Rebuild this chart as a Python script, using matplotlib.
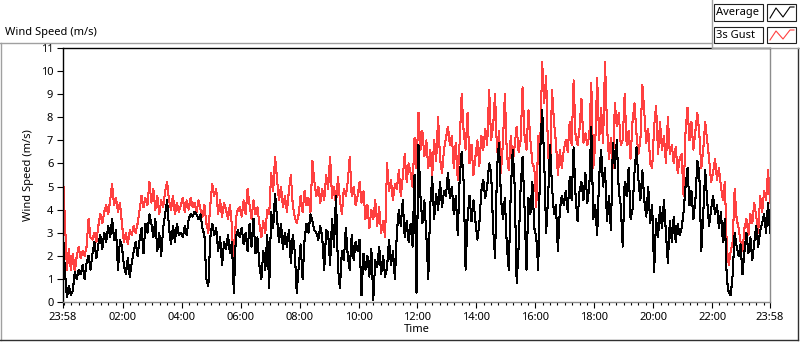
import numpy as np
import matplotlib.pyplot as plt
from matplotlib.lines import Line2D
from matplotlib.patches import Rectangle

plt.rcParams['font.family'] = ['Noto Sans', 'DejaVu Sans']

# one reading every 4 minutes, starting 23:58 (one row per hour)
avg_speed = [
    3.0, 1.3, 0.2, 0.7, 0.3, 0.5, 1.3, 1.0, 1.4, 1.2, 1.6, 1.0, 1.7, 2.0, 1.4,
    2.1, 2.6, 1.9, 2.5, 2.9, 2.3, 3.0, 2.6, 3.3, 2.8, 3.6, 2.7, 3.1, 1.4, 2.7,
    2.4, 1.6, 1.2, 1.9, 1.1, 1.7, 2.2, 2.6, 2.0, 2.7, 3.2, 2.1, 3.4, 3.0, 3.8,
    3.4, 2.8, 3.6, 2.2, 3.0, 2.0, 3.2, 3.8, 4.4, 3.2, 2.5, 3.3, 2.6, 3.4, 2.9,
    3.0, 2.8, 3.3, 2.9, 3.6, 3.8, 3.7, 3.9, 3.8, 3.6, 3.8, 3.2, 2.9, 1.0, 0.7,
    2.8, 3.4, 2.9, 3.2, 2.2, 2.8, 1.6, 2.6, 2.3, 2.9, 2.1, 2.6, 0.4, 2.8, 3.1,
    2.8, 3.2, 2.5, 3.0, 2.2, 3.4, 2.4, 3.6, 2.1, 2.8, 1.6, 1.0, 2.2, 1.4, 2.9,
    0.6, 3.9, 3.2, 4.7, 3.6, 2.6, 3.4, 2.3, 3.0, 2.4, 3.1, 1.7, 2.9, 2.2, 0.4,
    1.5, 2.5, 1.0, 2.7, 3.4, 3.0, 3.8, 3.5, 3.1, 3.0, 2.7, 3.3, 2.8, 1.4, 3.1,
    3.0, 1.6, 3.6, 2.4, 4.6, 1.5, 0.6, 2.2, 1.8, 3.2, 2.0, 1.4, 2.9, 1.8, 2.6,
    2.2, 2.7, 0.3, 2.1, 1.4, 2.0, 1.1, 2.3, 0.1, 1.8, 1.5, 2.4, 1.2, 2.0, 1.1,
    1.5, 2.7, 1.6, 2.2, 1.0, 3.0, 4.0, 3.3, 4.4, 2.8, 3.5, 2.6, 3.4, 2.4, 5.5,
    0.4, 6.8, 4.6, 3.4, 4.4, 2.9, 1.0, 4.2, 5.4, 3.6, 4.7, 4.0, 5.2, 4.1, 4.8,
    4.6, 5.6, 4.5, 5.0, 3.8, 4.6, 2.9, 5.4, 6.5, 5.2, 1.4, 3.6, 4.6, 3.5, 4.4,
    3.5, 2.7, 3.4, 4.8, 5.3, 4.5, 5.0, 6.0, 5.6, 3.2, 1.9, 5.8, 6.9, 4.5, 3.6,
    4.5, 2.4, 1.4, 4.8, 6.6, 5.0, 0.8, 2.4, 4.9, 6.3, 4.1, 1.4, 4.5, 3.8, 5.2,
    3.2, 2.8, 1.4, 6.6, 8.3, 6.2, 3.0, 4.5, 6.8, 5.0, 3.8, 4.2, 2.2, 4.0, 4.6,
    4.2, 4.8, 3.9, 5.4, 4.4, 6.7, 4.6, 3.5, 4.8, 5.2, 4.4, 5.6, 4.3, 5.0, 7.6,
    3.6, 4.2, 2.9, 5.4, 6.6, 5.0, 5.8, 3.5, 4.6, 3.1, 6.9, 5.8, 7.0, 4.8, 4.2,
    2.4, 5.2, 4.6, 5.8, 3.6, 4.0, 5.6, 6.7, 5.3, 4.4, 5.7, 4.4, 3.7, 5.0, 3.4,
    4.2, 1.3, 3.6, 2.8, 4.1, 3.2, 4.4, 3.0, 1.7, 3.5, 2.6, 3.7, 2.6, 3.4, 2.9,
    3.2, 3.9, 5.0, 5.8, 4.2, 4.8, 3.6, 4.4, 6.1, 5.6, 2.2, 3.8, 5.7, 4.4, 3.3,
    4.0, 4.6, 3.8, 4.2, 3.2, 3.9, 2.6, 3.6, 1.0, 0.4, 0.3, 1.2, 3.0, 2.4, 2.0,
    2.5, 1.2, 2.2, 3.0, 2.1, 2.8, 1.8, 2.6, 3.3, 2.4, 3.1, 3.4, 3.8, 3.0, 4.3, 3.0,
]

gust_speed = [
    5.5, 3.5, 1.4, 2.3, 1.4, 2.1, 1.3, 2.0, 2.4, 1.9, 2.2, 2.0, 2.4, 3.6, 2.8,
    2.7, 3.0, 2.6, 3.3, 3.8, 3.4, 3.9, 4.2, 3.8, 4.4, 5.1, 4.2, 4.5, 3.9, 4.3,
    3.4, 2.6, 3.0, 2.5, 3.1, 2.9, 3.3, 3.0, 3.4, 4.0, 4.6, 4.1, 4.5, 4.2, 5.2,
    4.3, 4.9, 4.0, 4.6, 3.8, 4.4, 4.1, 4.8, 5.2, 4.4, 4.0, 4.6, 3.8, 4.3, 3.9,
    4.2, 4.5, 3.9, 4.4, 4.0, 4.5, 4.1, 4.3, 3.9, 4.4, 4.0, 3.7, 4.2, 3.4, 3.0,
    4.2, 5.1, 4.6, 4.9, 3.8, 4.4, 3.7, 4.3, 4.0, 3.6, 4.2, 3.3, 1.3, 3.6, 4.0,
    4.1, 3.7, 4.4, 3.8, 4.9, 4.2, 3.6, 4.4, 3.8, 4.1, 3.4, 2.8, 3.5, 3.0, 4.0,
    3.8, 5.6, 4.8, 6.3, 5.3, 4.4, 5.0, 4.1, 4.6, 3.9, 4.8, 5.5, 4.2, 3.7, 3.4,
    3.8, 4.6, 3.9, 4.8, 4.2, 4.5, 3.9, 6.1, 5.2, 4.6, 5.0, 4.3, 4.9, 4.4, 5.5,
    4.9, 6.3, 4.5, 5.0, 4.2, 5.4, 4.4, 3.8, 4.9, 4.6, 5.2, 6.3, 4.6, 5.0, 4.2,
    4.6, 5.2, 4.3, 4.8, 3.6, 4.2, 3.2, 4.0, 3.6, 4.4, 3.3, 4.1, 3.0, 3.5, 2.8,
    6.0, 4.8, 5.3, 4.4, 5.1, 4.9, 5.7, 4.6, 5.4, 6.4, 5.2, 6.0, 5.6, 5.0, 7.1,
    5.8, 8.2, 6.6, 7.4, 6.3, 7.0, 5.8, 6.6, 5.5, 7.0, 6.1, 8.0, 6.2, 5.6, 6.6,
    7.1, 7.6, 6.8, 7.2, 5.8, 6.9, 5.3, 7.0, 9.0, 7.4, 6.6, 8.2, 6.0, 6.8, 5.5,
    6.3, 7.0, 5.9, 7.2, 6.6, 7.5, 6.8, 9.2, 7.0, 7.6, 9.0, 6.5, 7.4, 5.6, 6.9,
    9.0, 6.4, 5.7, 7.2, 6.0, 6.8, 7.6, 6.5, 7.0, 9.3, 7.2, 6.6, 8.3, 7.0, 6.0,
    5.8, 4.1, 7.2, 6.8, 10.4, 8.6, 9.8, 6.4, 5.6, 9.2, 7.8, 6.9, 5.5, 6.6, 5.8,
    6.6, 7.0, 6.5, 7.8, 6.8, 9.6, 7.2, 6.8, 7.5, 8.8, 6.9, 7.3, 6.8, 7.2, 9.5,
    5.8, 6.8, 9.7, 7.0, 8.4, 6.9, 10.4, 7.6, 6.2, 7.1, 5.8, 8.6, 7.6, 8.2, 6.8,
    7.0, 9.0, 6.8, 7.4, 6.2, 7.8, 8.6, 7.3, 6.4, 7.0, 9.4, 8.2, 6.9, 7.5, 6.0,
    5.8, 7.6, 8.5, 6.4, 7.8, 6.6, 7.2, 6.0, 8.0, 6.4, 6.8, 6.0, 6.7, 5.6, 6.2,
    6.4, 4.6, 7.4, 8.4, 7.0, 7.8, 6.6, 7.4, 8.2, 7.3, 5.8, 6.6, 7.8, 7.0, 6.2,
    5.2, 5.6, 6.2, 5.3, 5.8, 5.0, 4.4, 5.2, 2.4, 1.6, 2.2, 2.6, 4.9, 3.6, 3.2,
    2.6, 2.2, 3.2, 3.6, 2.9, 3.8, 3.4, 4.3, 3.7, 3.0, 4.6, 3.9, 4.8, 4.4, 5.7, 4.3,
]

time_labels = ['23:58', '02:00', '04:00', '06:00', '08:00', '10:00', '12:00',
               '14:00', '16:00', '18:00', '20:00', '22:00', '23:58']
series_names = ['Average', '3s Gust']
series_colors = ['#000000', '#ff4040']

hours = np.arange(len(avg_speed)) * 4 / 60.0   # hours since 23:58

W, H = 800, 342
def fx(x):
    return x / W
def fy(y):
    return 1 - y / H

fig = plt.figure(figsize=(8, 3.42), dpi=100)
ax = fig.add_axes([fx(63), fy(302), fx(770) - fx(63), (302 - 48) / H])

ax.plot(hours, gust_speed, color=series_colors[1], lw=0.75, antialiased=False, zorder=2)
ax.plot(hours, avg_speed, color=series_colors[0], lw=0.75, antialiased=False, zorder=3)

ax.set_xlim(0, 24)
ax.set_ylim(0, 11)

major = [0] + [h + 2 / 60 for h in range(2, 23, 2)] + [24]
ax.set_xticks(major)
ax.set_xticklabels(time_labels)
ax.set_xticks(np.arange(2 / 60, 24, 0.25), minor=True)
ax.set_yticks(range(0, 12))

ax.tick_params(axis='both', which='major', direction='out', length=4, width=0.8,
               labelsize=8, colors='black')
ax.tick_params(axis='x', which='major', pad=3)
ax.tick_params(axis='y', which='major', pad=3)
ax.tick_params(axis='x', which='minor', direction='out', length=2.5, width=0.8)

for side in ['top', 'left']:
    ax.spines[side].set_color('black')
    ax.spines[side].set_linewidth(1.0)
for side in ['right', 'bottom']:
    ax.spines[side].set_color('#8c8c8c')
    ax.spines[side].set_linewidth(1.0)

ax.set_xlabel('Time', fontsize=8, labelpad=1)
ax.set_ylabel('Wind Speed (m/s)', fontsize=8, labelpad=5)

# outer chart frame
fig.add_artist(Line2D([fx(0), fx(712)], [fy(42.5), fy(42.5)], color='#a0a0a0', lw=1))
fig.add_artist(Line2D([fx(1), fx(1)], [fy(42.5), fy(340)], color='#a0a0a0', lw=1))
fig.add_artist(Line2D([fx(0), fx(798)], [fy(340), fy(340)], color='#303030', lw=1))
fig.add_artist(Line2D([fx(798), fx(798)], [fy(48), fy(340)], color='#303030', lw=1))
fig.text(fx(5), fy(32), 'Wind Speed (m/s)', fontsize=8, va='center', ha='left')

# legend block
fig.add_artist(Line2D([fx(712), fx(712)], [fy(0), fy(48)], color='#a0a0a0', lw=1))
fig.add_artist(Line2D([fx(712), fx(800)], [fy(48), fy(48)], color='#a0a0a0', lw=1))
rows = [(4, 21), (27, 43)]
for name, color, (top, bot) in zip(series_names, series_colors, rows):
    fig.add_artist(Rectangle((fx(714), fy(bot)), fx(763) - fx(714), fy(top) - fy(bot),
                             facecolor='white', edgecolor='#202020', lw=0.8))
    fig.text(fx(716), fy((top + bot) / 2), name, fontsize=8, va='center', ha='left')
    fig.add_artist(Rectangle((fx(767), fy(bot)), fx(796) - fx(767), fy(top) - fy(bot),
                             facecolor='white', edgecolor='#202020', lw=0.8))
    fig.add_artist(Line2D([fx(770), fx(776), fx(783), fx(790), fx(794)],
                          [fy(bot - 3), fy(top + 4), fy(bot - 4), fy(top + 3), fy(top + 3)],
                          color=color, lw=0.8))

fig.savefig('out.png', dpi=100)
